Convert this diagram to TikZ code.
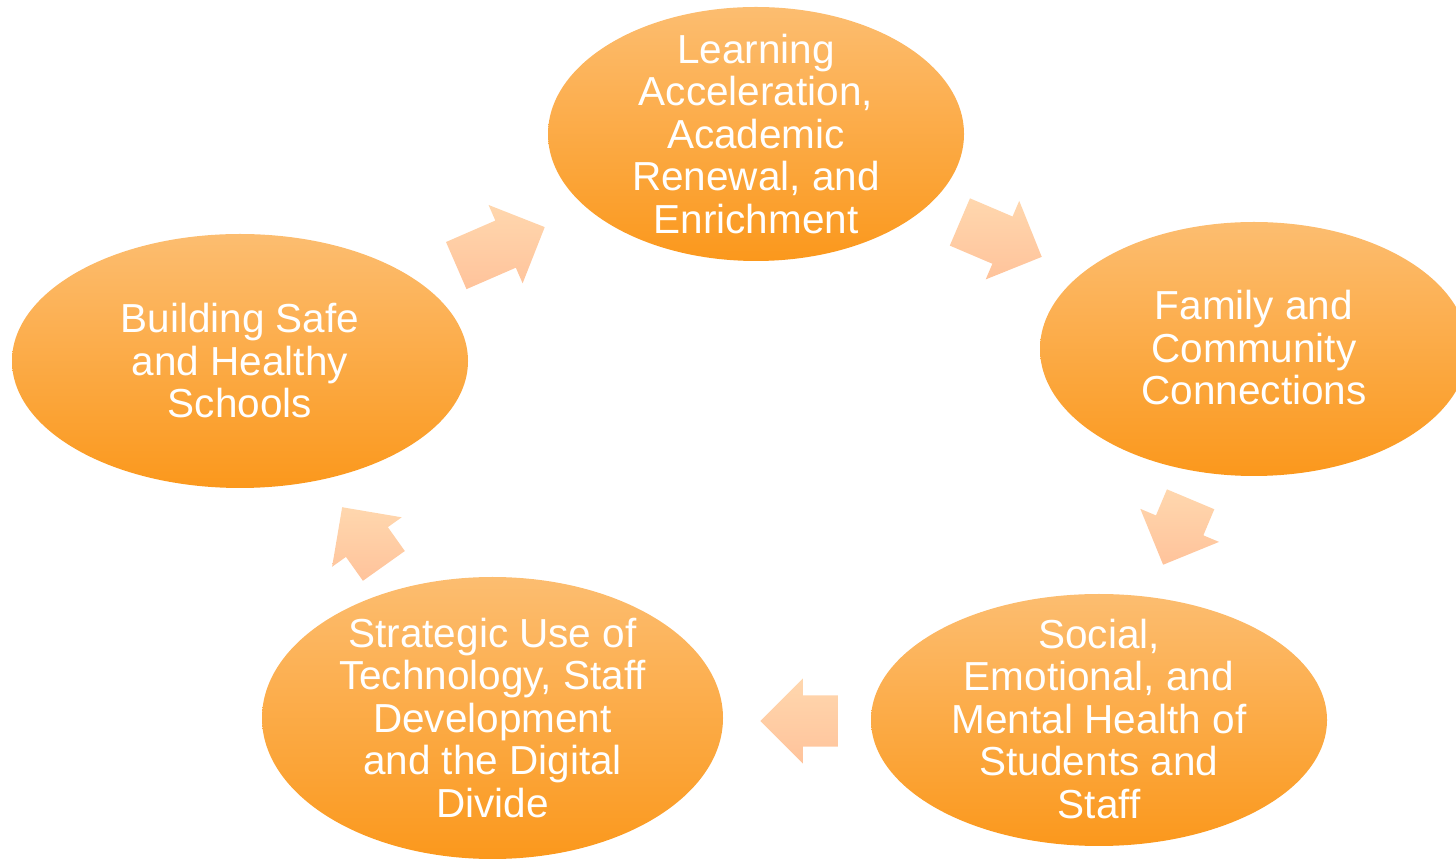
\documentclass[tikz,border=0pt]{standalone}
\usepackage{fontspec}
\setmainfont{Liberation Sans}
\usetikzlibrary{shapes.geometric,shapes.arrows}
\definecolor{ellTop}{RGB}{252,189,112}
\definecolor{ellBot}{RGB}{251,152,28}
\definecolor{arrTop}{RGB}{255,215,174}
\definecolor{arrBot}{RGB}{255,195,155}

\begin{document}
\begin{tikzpicture}[x=1pt,y=1pt,
    topic/.style={ellipse, inner sep=0pt, top color=ellTop, bottom color=ellBot},
    caption/.style={text=white, align=center, inner sep=0pt, font=\fontsize{40.5}{42.5}\selectfont},
    flow/.style={single arrow, inner xsep=0pt, inner ysep=25.5pt, single arrow head extend=17pt,
        top color=arrTop, bottom color=arrBot, rotate=#1, anchor=tip}]
    \useasboundingbox (0,0) rectangle (1456,859);

    % the five areas
    \node[topic, minimum width=416pt, minimum height=254pt] (learn) at (756,725) {};
    \node[topic, minimum width=428pt, minimum height=254pt] (family) at (1254,510) {};
    \node[topic, minimum width=456pt, minimum height=252pt] (social) at (1099,139) {};
    \node[topic, minimum width=461pt, minimum height=282pt] (tech) at (492.5,141) {};
    \node[topic, minimum width=456pt, minimum height=254pt] (safe) at (240,498) {};

    \node[caption] (learn-txt) at (learn) {Learning\\Acceleration,\\Academic\\Renewal, and\\Enrichment};
    \node[caption] (family-txt) at ([yshift=1pt]family) {Family and\\Community\\Connections};
    \node[caption] (social-txt) at ([yshift=1pt]social) {Social,\\Emotional, and\\Mental Health of\\Students and\\Staff};
    \node[caption] (tech-txt) at (tech) {Strategic Use of\\Technology, Staff\\Development\\and the Digital\\Divide};
    \node[caption] (safe-txt) at (safe) {Building Safe\\and Healthy\\Schools};

    % arrows between them, placed by their tips
    \node[flow=23.5, minimum height=96.5pt] (a1) at (545,632) {};
    \node[flow=-23.1, minimum height=89pt] (a2) at (1042,602) {};
    \node[flow=-112.8, minimum height=71pt] (a3) at (1163,294) {};
    \node[flow=180, minimum height=78pt] (a4) at (760,138) {};
    \node[flow=125.4, minimum height=72pt] (a5) at (342,352) {};
\end{tikzpicture}
\end{document}
